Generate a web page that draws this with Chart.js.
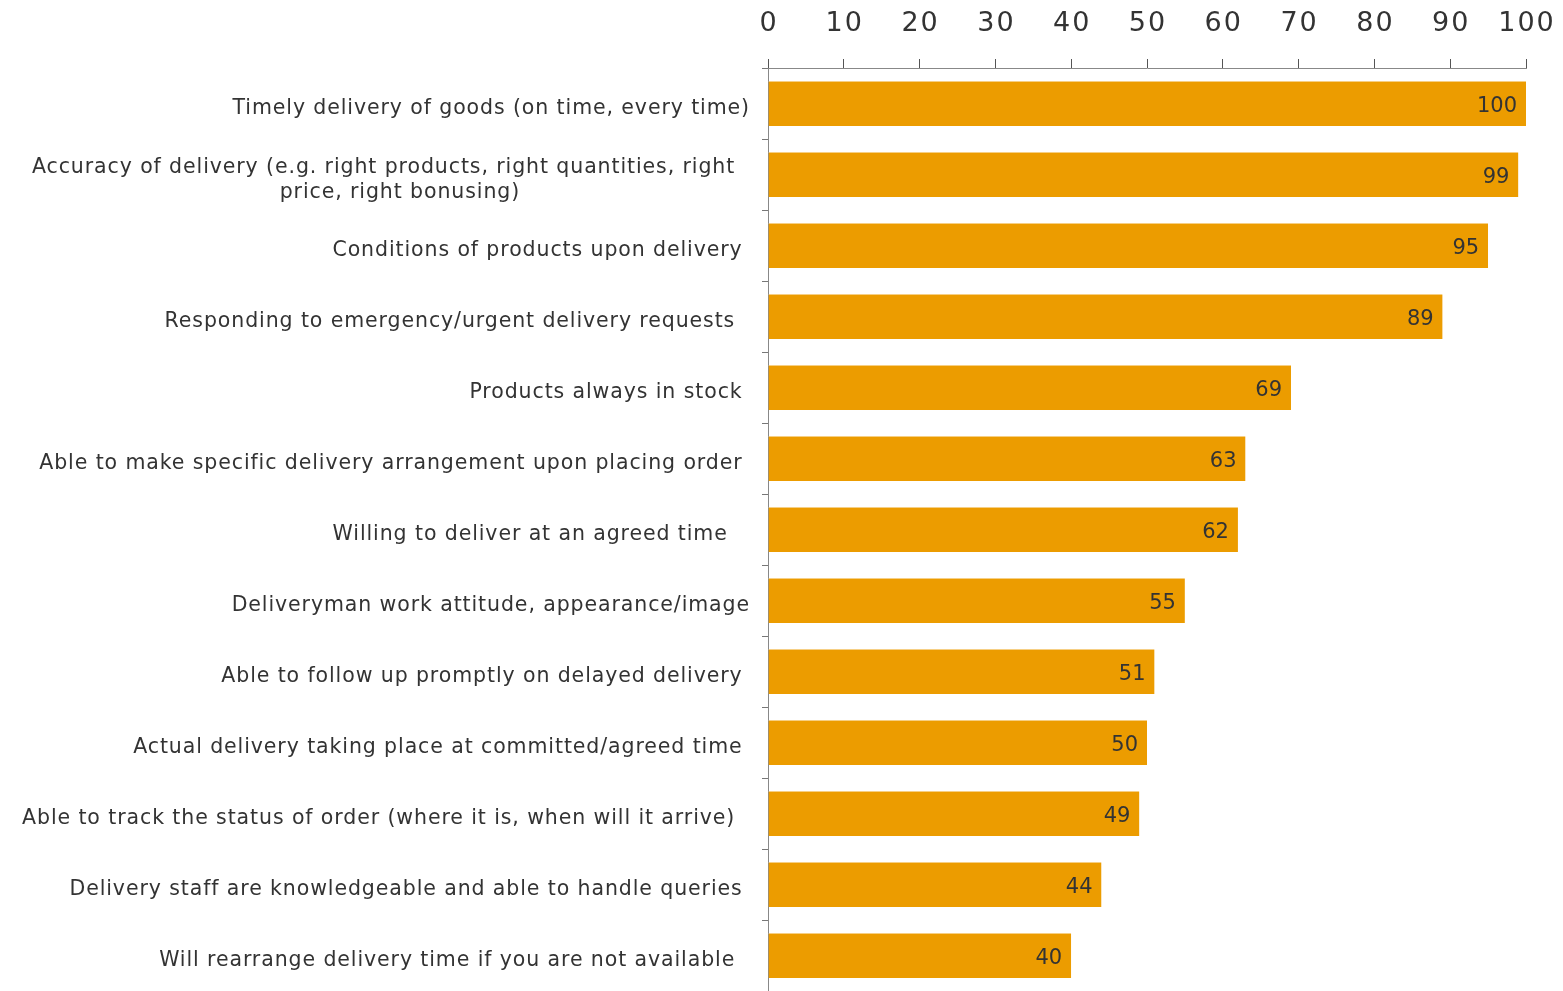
<!DOCTYPE html>
<html><head><meta charset="utf-8">
<script src="https://cdn.jsdelivr.net/npm/chart.js@4/dist/chart.umd.min.js"></script>
<style>html,body{margin:0;padding:0;background:#fff}canvas{display:block}</style>
</head><body>
<canvas id="c" width="1563" height="991"></canvas>
<script>
const categories = [
  "Timely delivery of goods (on time, every time)",
  ["Accuracy of delivery (e.g. right products, right quantities, right  ", "price, right bonusing)                               "],
  "Conditions of products upon delivery ",
  "Responding to emergency/urgent delivery requests  ",
  "Products always in stock ",
  "Able to make specific delivery arrangement upon placing order ",
  "Willing to deliver at an agreed time   ",
  "Deliveryman work attitude, appearance/image",
  "Able to follow up promptly on delayed delivery ",
  "Actual delivery taking place at committed/agreed time ",
  "Able to track the status of order (where it is, when will it arrive)  ",
  "Delivery staff are knowledgeable and able to handle queries ",
  "Will rearrange delivery time if you are not available  "
];
const values = [100, 99, 95, 89, 69, 63, 62, 55, 51, 50, 49, 44, 40];
const xMin = 0, xMax = 100, xStep = 10;

const FONT = "'DejaVu Sans', Verdana, sans-serif";

const valueLabels = {
  id: 'valueLabels',
  afterDatasetsDraw(chart) {
    const ctx = chart.ctx;
    const meta = chart.getDatasetMeta(0);
    ctx.save();
    ctx.font = "21px " + FONT;
    ctx.fillStyle = "#333333";
    ctx.textAlign = "right";
    ctx.textBaseline = "middle";
    meta.data.forEach((el, i) => {
      ctx.fillText(String(values[i]), el.x - 9, el.y + 3);
    });
    ctx.restore();
  }
};

function patchLabels(scale, spacing, dx, dy) {
  if (!scale || scale._spacedPatched) return;
  const orig = scale.drawLabels.bind(scale);
  scale.drawLabels = function(area) {
    const ctx = this.ctx;
    ctx.save();
    ctx.letterSpacing = spacing;
    ctx.translate(dx, dy);
    orig(area);
    ctx.restore();
  };
  scale._spacedPatched = true;
}

const spacedTicks = {
  id: 'spacedTicks',
  afterLayout(chart) {
    patchLabels(chart.scales.x, "2px", 1, 2);
    patchLabels(chart.scales.y, "0.9px", 0, 5.5);
  }
};

new Chart(document.getElementById('c'), {
  type: 'bar',
  data: {
    labels: categories,
    datasets: [{
      data: values,
      backgroundColor: '#EC9C00',
      borderColor: '#F6CF84',
      borderWidth: { top: 1, right: 0, bottom: 0, left: 0 },
      borderSkipped: false,
      categoryPercentage: 1,
      barPercentage: 0.635
    }]
  },
  options: {
    indexAxis: 'y',
    responsive: false,
    animation: false,
    layout: { padding: { top: 0, right: 37, bottom: 0, left: 0 } },
    plugins: { legend: { display: false }, tooltip: { enabled: false } },
    scales: {
      x: {
        position: 'top',
        min: xMin, max: xMax,
        ticks: { stepSize: xStep, color: '#333333', font: { family: FONT, size: 27 }, padding: 21 },
        grid: { drawOnChartArea: false, tickLength: 9, color: '#555555' },
        border: { color: '#888888', width: 1 },
        afterFit: s => { s.height = 68; s.paddingLeft = 0; s.paddingRight = 0; }
      },
      y: {
        ticks: { color: '#333333', font: { family: FONT, size: 20.5 }, padding: 12 },
        grid: { offset: true, drawOnChartArea: false, tickLength: 6, color: '#777777' },
        border: { color: '#888888', width: 1 },
        afterFit: s => { s.width = 768; s.paddingTop = 0; s.paddingBottom = 0; }
      }
    }
  },
  plugins: [valueLabels, spacedTicks]
});
</script>
</body></html>
